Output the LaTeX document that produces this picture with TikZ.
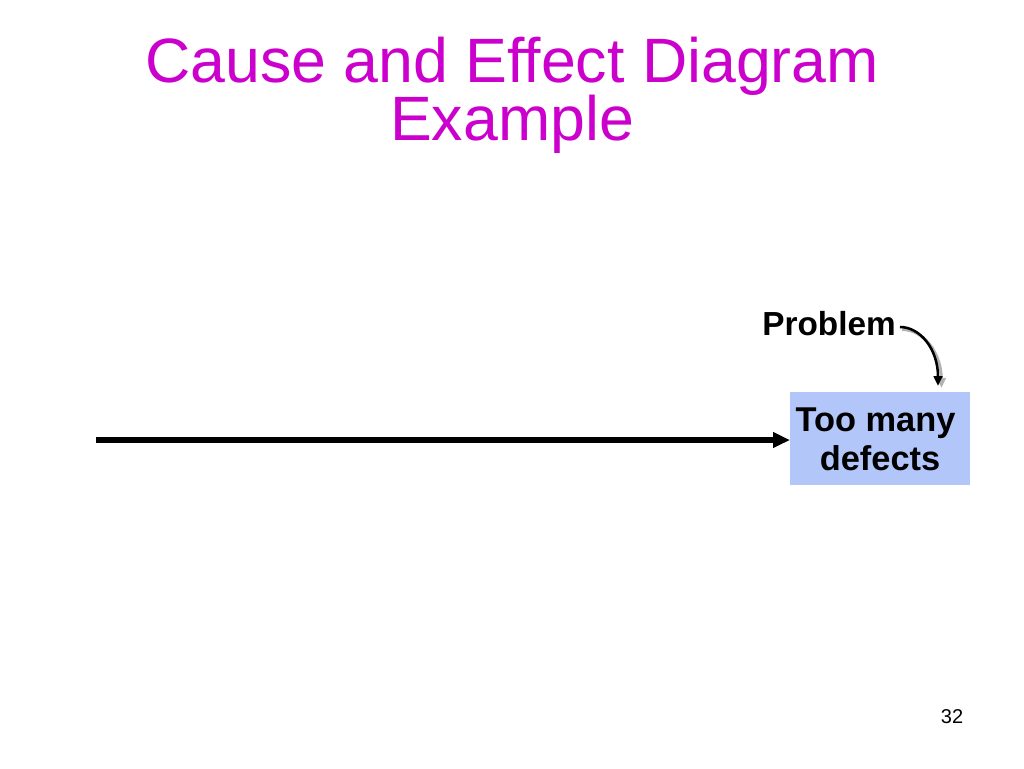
\documentclass[tikz,border=0pt]{standalone}
\usepackage{fontspec}
\setmainfont{Liberation Sans}
\usetikzlibrary{arrows.meta}
\definecolor{titlemag}{HTML}{CC00CC}
\definecolor{boxblue}{HTML}{B3C6FA}
\begin{document}
\begin{tikzpicture}[x=0.75pt,y=-0.75pt,
  titletext/.style={text=titlemag,font=\fontsize{47}{52}\selectfont,inner sep=0pt,anchor=base},
  effectbox/.style={fill=boxblue,draw=none,minimum width=135pt,minimum height=69.75pt,inner sep=0pt},
  effecttext/.style={font=\fontsize{25.8}{28}\selectfont\bfseries,inner sep=0pt,anchor=base},
  spine/.style={line width=3.8pt,-{Triangle[length=12.75pt,width=11.25pt]}},
  pointer/.style={line width=1.9pt,-{Triangle[length=7.5pt,width=6.5pt]}},
  pointershadow/.style={line width=2.2pt,draw=black!30,-{Triangle[length=7.5pt,width=6.5pt]}}
]
\useasboundingbox (0,0) rectangle (1024,768);
\node[titletext] (title1) at (512,82) {Cause and Effect Diagram};
\node[titletext] (title2) at (512,140) {Example};
\node[effectbox,anchor=north west] (effect) at (790,392) {};
\node[effecttext] (line1) at (875.5,431.5) {Too many};
\node[effecttext] (line2) at (880,470) {defects};
\coordinate (spinestart) at (96,440);
\draw[spine] (spinestart) -- (effect.west |- spinestart);
\node[font=\fontsize{25}{28}\selectfont\bfseries,inner sep=0pt,anchor=base] (problem) at (829,335) {Problem};
\coordinate (pstart) at (900,327);
\coordinate (ptip) at (938,386);
\coordinate (pstartsh) at (902,329.5);
\coordinate (ptipsh) at (941.5,388);
\draw[pointershadow] (pstartsh) .. controls (923,329.5) and (941,352) .. (ptipsh);
\draw[pointer] (pstart) .. controls (920,327) and (938,349) .. (ptip);
\node[font=\fontsize{15}{18}\selectfont,inner sep=0pt,anchor=base] (pagenum) at (952,723) {32};
\end{tikzpicture}
\end{document}
